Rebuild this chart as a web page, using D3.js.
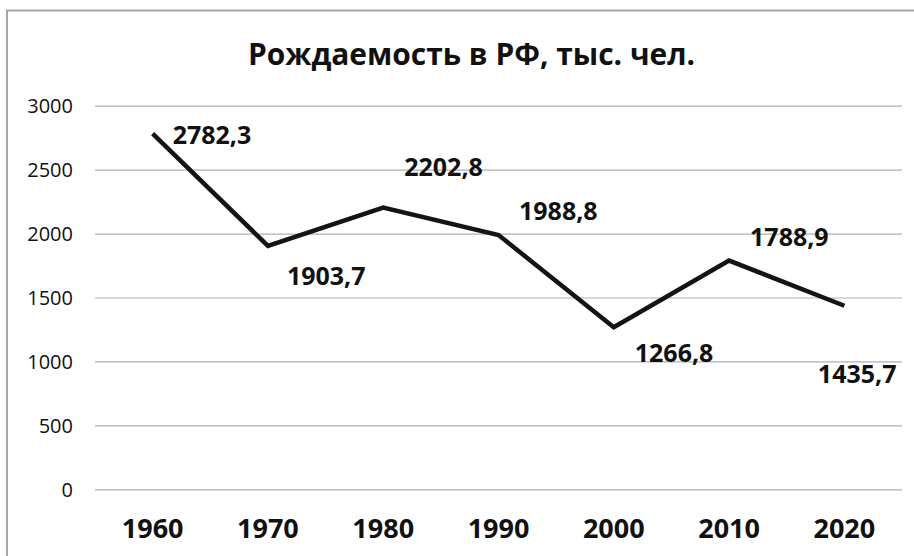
<!DOCTYPE html>
<html>
<head>
<meta charset="utf-8">
<script src="https://cdn.jsdelivr.net/npm/d3@7"></script>
<style>
  html, body { margin: 0; padding: 0; background: #fff; }
  svg { display: block; }
  text { font-family: "Open Sans", "Noto Sans", sans-serif; fill: #111; }
</style>
</head>
<body>
<svg id="chart" width="914" height="556"></svg>
<script>
// ---- data ----
const title = "Рождаемость в РФ, тыс. чел.";
const years = ["1960", "1970", "1980", "1990", "2000", "2010", "2020"];
const births = [2782.3, 1903.7, 2202.8, 1988.8, 1266.8, 1788.9, 1435.7];
const yTicks = [0, 500, 1000, 1500, 2000, 2500, 3000];

// ---- layout (label placement relative to each point) ----
const labelDx = [20, 19, 21, 20.5, 21, 21, -26.5];
const labelDy = [1.5, 30, -41, -24, 26, -24, 68];

const W = 914, H = 556;
const margin = { left: 95, right: 12, top: 105.7, bottom: 66.7 };
const svg = d3.select("#chart");

// outer frame
svg.append("rect")
  .attr("x", 7).attr("y", 10.5)
  .attr("width", 940).attr("height", 600)
  .attr("fill", "#fff")
  .attr("stroke", "#a6a6a6").attr("stroke-width", 2);

const x = d3.scaleBand().domain(years).range([margin.left, W - margin.right]).padding(0);
const y = d3.scaleLinear().domain([0, 3000]).range([H - margin.bottom, margin.top]);

// title
svg.append("text")
  .attr("x", 471.5).attr("y", 65)
  .attr("text-anchor", "middle")
  .attr("font-size", 30).attr("font-weight", 700)
  .attr("textLength", 447).attr("lengthAdjust", "spacingAndGlyphs")
  .text(title);

// gridlines + y axis
const yAxis = d3.axisLeft(y).tickValues(yTicks)
  .tickSize(-(W - margin.left - margin.right)).tickPadding(22)
  .tickFormat(d3.format("d"));
const gy = svg.append("g").attr("transform", `translate(${margin.left},0)`).call(yAxis);
gy.select(".domain").remove();
gy.selectAll(".tick line").attr("stroke", "#b0b0b0").attr("stroke-width", 1.2);
gy.selectAll(".tick text")
  .attr("font-size", 20).attr("fill", "#111")
  .style("font-family", '"Open Sans", sans-serif')
  .attr("dy", "0.36em");

// x axis labels
const xAxis = d3.axisBottom(x).tickSize(0).tickPadding(0);
const gx = svg.append("g").attr("transform", `translate(0,${H - margin.bottom})`).call(xAxis);
gx.select(".domain").remove();
gx.selectAll(".tick text")
  .attr("font-size", 27).attr("font-weight", 700).attr("fill", "#111")
  .style("font-family", '"Open Sans", sans-serif')
  .attr("y", 0).attr("dy", 48.5);

// line
const pts = years.map((yr, i) => ({ yr, v: births[i], i }));
const line = d3.line()
  .x(d => x(d.yr) + x.bandwidth() / 2)
  .y(d => y(d.v));
svg.append("path")
  .datum(pts)
  .attr("d", line)
  .attr("fill", "none")
  .attr("stroke", "#141414")
  .attr("stroke-width", 4.5)
  .attr("stroke-linejoin", "miter");

// data labels
const fmt = v => d3.format(".1f")(v).replace(".", ",");
svg.append("g").selectAll("text")
  .data(pts).join("text")
  .attr("x", d => x(d.yr) + x.bandwidth() / 2 + labelDx[d.i])
  .attr("y", d => y(d.v) + labelDy[d.i])
  .attr("dy", "0.36em")
  .attr("font-size", 25).attr("font-weight", 700)
  .text(d => fmt(d.v));
</script>
</body>
</html>
